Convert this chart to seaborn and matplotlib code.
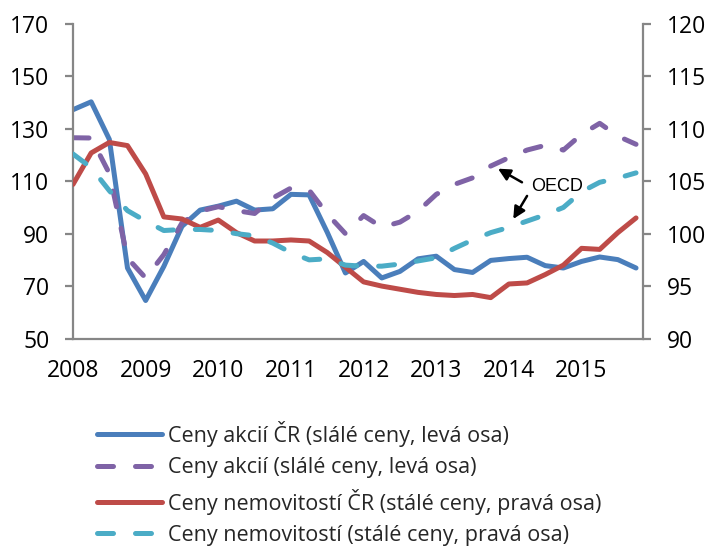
import numpy as np
import pandas as pd
import matplotlib
matplotlib.use("Agg")
import matplotlib.pyplot as plt
import seaborn as sns

# ---- data (quarterly, 2008Q1 - 2015Q4) ----
quarters = [2008 + i * 0.25 for i in range(32)]

akcie_cr = [137.3, 140.3, 126.0, 76.9, 64.5, 77.5, 92.8, 99.0, 100.5, 102.4, 99.0, 99.5,
            105.0, 104.8, 90.5, 75.0, 79.4, 73.1, 75.6, 80.4, 81.4, 76.3, 75.2, 79.8,
            80.5, 81.0, 77.8, 76.9, 79.4, 81.1, 80.1, 76.9]
akcie_oecd = [126.6, 126.5, 113.0, 80.7, 73.1, 82.0, 94.1, 98.6, 100.3, 98.8, 97.7, 103.6,
              107.4, 106.6, 97.5, 90.0, 96.9, 92.5, 94.4, 98.6, 105.0, 108.8, 111.3, 115.8,
              119.0, 121.9, 123.7, 121.9, 127.9, 132.1, 127.2, 124.1]
nemov_cr = [104.7, 107.7, 108.7, 108.4, 105.7, 101.6, 101.4, 100.6, 101.3, 100.1, 99.3, 99.3,
            99.4, 99.3, 98.2, 96.8, 95.4, 95.0, 94.7, 94.4, 94.2, 94.1, 94.2, 93.9,
            95.2, 95.3, 96.1, 97.0, 98.6, 98.5, 100.1, 101.5]
nemov_oecd = [107.6, 106.3, 104.1, 102.2, 101.2, 100.3, 100.4, 100.4, 100.3, 100.0, 99.8, 99.1,
              98.2, 97.5, 97.6, 97.0, 96.9, 96.9, 97.1, 97.4, 97.7, 98.6, 99.4, 100.1,
              100.6, 101.2, 101.8, 102.5, 104.0, 104.9, 105.3, 105.8]

labels = ["Ceny akcií ČR (slálé ceny, levá osa)",
          "Ceny akcií (slálé ceny, levá osa)",
          "Ceny nemovitostí ČR (stálé ceny, pravá osa)",
          "Ceny nemovitostí (stálé ceny, pravá osa)"]
colors = ["#4a7ebb", "#7f63a6", "#be4b48", "#4bacc6"]

left_ticks = [50, 70, 90, 110, 130, 150, 170]
right_ticks = [90, 95, 100, 105, 110, 115, 120]
year_ticks = [2008, 2009, 2010, 2011, 2012, 2013, 2014, 2015]

df = pd.DataFrame({"t": quarters, "a_cr": akcie_cr, "a_oecd": akcie_oecd,
                   "n_cr": nemov_cr, "n_oecd": nemov_oecd})

sns.set_style("white")
plt.rcParams["font.family"] = ["Open Sans", "DejaVu Sans"]

fig = plt.figure(figsize=(7.08, 5.5), dpi=100)
ax = fig.add_axes([73 / 708, 1 - 338.5 / 550, (643.3 - 73) / 708, (338.5 - 24) / 550])
ax2 = ax.twinx()

lw = 3.6
dash = (0, (3.2, 4.4))
sns.lineplot(data=df, x="t", y="a_cr", ax=ax, color=colors[0], lw=lw, label=labels[0],
             solid_joinstyle="round", solid_capstyle="round")
sns.lineplot(data=df, x="t", y="a_oecd", ax=ax, color=colors[1], lw=lw, label=labels[1],
             linestyle=dash, dash_capstyle="round", dash_joinstyle="round")
sns.lineplot(data=df, x="t", y="n_cr", ax=ax2, color=colors[2], lw=lw, label=labels[2],
             solid_joinstyle="round", solid_capstyle="round")
sns.lineplot(data=df, x="t", y="n_oecd", ax=ax2, color=colors[3], lw=lw, label=labels[3],
             linestyle=dash, dash_capstyle="round", dash_joinstyle="round")

ax.set_xlim(2008, 2015.85)
ax.set_ylim(50, 170)
ax2.set_ylim(90, 120)
ax.set_xticks(year_ticks)
ax.set_xticklabels([str(y) for y in year_ticks])
ax.set_yticks(left_ticks)
ax2.set_yticks(right_ticks)
ax.set_xlabel("")
ax.set_ylabel("")
ax2.set_ylabel("")

spine_c = "#868686"
for a in (ax, ax2):
    for s in a.spines.values():
        s.set_visible(False)
ax.spines["left"].set_visible(True)
ax.spines["bottom"].set_visible(True)
ax2.spines["right"].set_visible(True)
for s in (ax.spines["left"], ax.spines["bottom"], ax2.spines["right"]):
    s.set_color(spine_c)
    s.set_linewidth(1.6)

ax.tick_params(axis="both", direction="out", length=6, width=1.6, color=spine_c,
               labelsize=16.5, labelcolor="black", pad=11)
ax.tick_params(axis="x", pad=9)
ax2.tick_params(axis="y", direction="out", length=6, width=1.6, color=spine_c,
                labelsize=16.5, labelcolor="black", pad=11)
ax.grid(False)
ax2.grid(False)

# OECD annotation
ax2.annotate("", xy=(2013.85, 106.2), xytext=(2014.18, 104.9),
             arrowprops=dict(arrowstyle="-|>", color="black", lw=1.8,
                             mutation_scale=18, shrinkA=0, shrinkB=0))
ax2.annotate("", xy=(2014.06, 101.4), xytext=(2014.25, 103.6),
             arrowprops=dict(arrowstyle="-|>", color="black", lw=1.8,
                             mutation_scale=18, shrinkA=0, shrinkB=0))
ax2.text(2014.30, 104.5, "OECD", fontsize=13, family="Liberation Sans",
         ha="left", va="center", color="black")

# legend
h1, l1 = ax.get_legend_handles_labels()
h2, l2 = ax2.get_legend_handles_labels()
if ax.get_legend():
    ax.get_legend().remove()
if ax2.get_legend():
    ax2.get_legend().remove()
fig.legend(h1 + h2, l1 + l2, loc="upper left", bbox_to_anchor=(97 / 708, 1 - 421 / 550),
           frameon=False, fontsize=15.5, handlelength=3.0, handletextpad=0.3,
           labelspacing=0.48, borderpad=0, borderaxespad=0)

fig.savefig("out.png", dpi=100)
